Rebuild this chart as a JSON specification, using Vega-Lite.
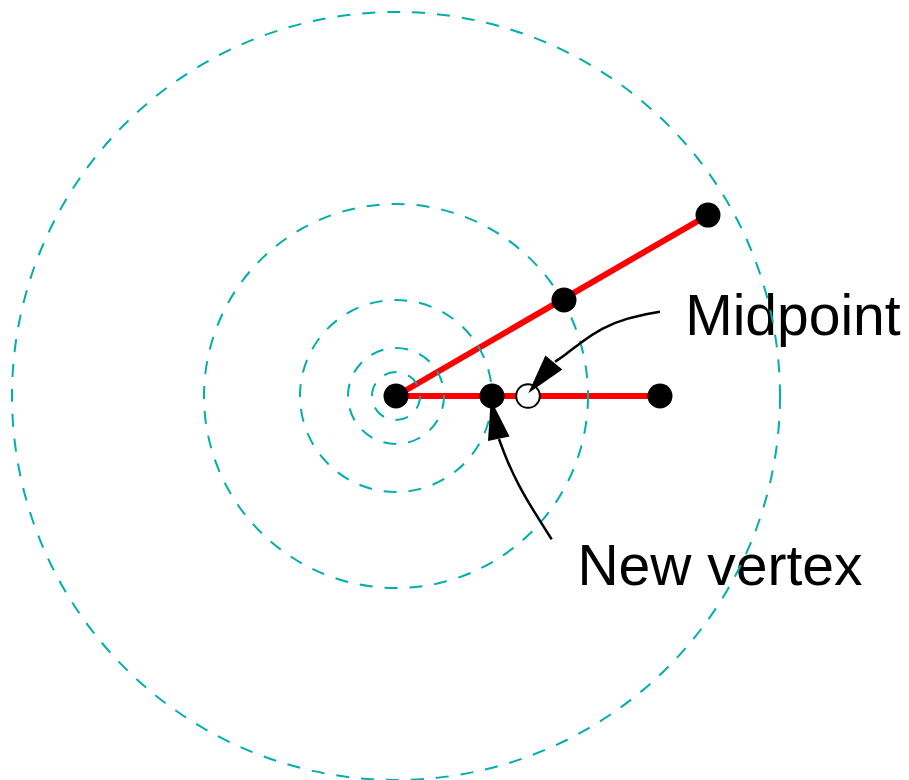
{
  "$schema": "https://vega.github.io/schema/vega-lite/v6.json",
  "width": 909,
  "height": 780,
  "autosize": {"type": "none"},
  "padding": 0,
  "background": "white",
  "config": {"view": {"stroke": null}},
  "datasets": {
    "labels": [
      {"label": "Midpoint", "x": 12.05, "y": 2.54},
      {"label": "New vertex", "x": 7.56, "y": -7.875}
    ],
    "segments": [
      {"seg": "A", "i": 0, "x": 0, "y": 0},
      {"seg": "A", "i": 1, "x": 11, "y": 0},
      {"seg": "B", "i": 0, "x": 0, "y": 0},
      {"seg": "B", "i": 1, "x": 13, "y": 7.54}
    ],
    "rings": [
      {"r": 1, "x": 0, "y": 0},
      {"r": 2, "x": 0, "y": 0},
      {"r": 4, "x": 0, "y": 0},
      {"r": 8, "x": 0, "y": 0},
      {"r": 16, "x": 0, "y": 0}
    ],
    "vertices": [
      {"x": 0, "y": 0},
      {"x": 4, "y": 0},
      {"x": 11, "y": 0},
      {"x": 7, "y": 4},
      {"x": 13, "y": 7.54}
    ],
    "midpoints": [
      {"x": 5.5, "y": 0}
    ],
    "curves": [
      {"arrow": "mid", "i": 0, "x": 11, "y": 3.5125},
      {"arrow": "mid", "i": 1, "x": 9.542, "y": 3.2375},
      {"arrow": "mid", "i": 2, "x": 8.571, "y": 2.821},
      {"arrow": "mid", "i": 3, "x": 7.7375, "y": 2.2625},
      {"arrow": "mid", "i": 4, "x": 7.042, "y": 1.708},
      {"arrow": "mid", "i": 5, "x": 6.625, "y": 1.429},
      {"arrow": "new", "i": 0, "x": 6.4875, "y": -5.971},
      {"arrow": "new", "i": 1, "x": 5.792, "y": -4.888},
      {"arrow": "new", "i": 2, "x": 5.096, "y": -3.708},
      {"arrow": "new", "i": 3, "x": 4.6125, "y": -2.667},
      {"arrow": "new", "i": 4, "x": 4.29, "y": -1.79}
    ],
    "heads": [
      {"arrow": "mid", "x": 5.5125, "y": 0.1125, "dir": 219.7},
      {"arrow": "new", "x": 3.95, "y": -0.15, "dir": 348.5}
    ]
  },
  "encoding": {
    "x": {"field": "x", "type": "quantitative", "scale": {"domain": [-16.5, 21.375], "nice": false, "zero": false}, "axis": null},
    "y": {"field": "y", "type": "quantitative", "scale": {"domain": [-16, 16.5], "nice": false, "zero": false}, "axis": null}
  },
  "layer": [
    {
      "data": {"name": "labels"},
      "mark": {"type": "text", "align": "left", "baseline": "alphabetic", "font": "Liberation Sans", "fontSize": 57, "color": "black"},
      "encoding": {"text": {"field": "label", "type": "nominal"}}
    },
    {
      "data": {"name": "segments"},
      "mark": {"type": "line", "color": "#FF0000", "strokeWidth": 6, "strokeCap": "butt"},
      "encoding": {
        "detail": {"field": "seg", "type": "nominal"},
        "order": {"field": "i", "type": "quantitative"}
      }
    },
    {
      "data": {"name": "rings"},
      "mark": {"type": "point", "shape": "circle", "filled": false, "color": "#00AEAE", "strokeWidth": 2, "strokeDash": [13, 12], "opacity": 1},
      "encoding": {
        "size": {"field": "r", "type": "quantitative", "scale": {"type": "pow", "exponent": 2, "domain": [0, 16], "range": [0, 589824], "zero": true}, "legend": null}
      }
    },
    {
      "data": {"name": "vertices"},
      "mark": {"type": "point", "shape": "circle", "filled": true, "color": "black", "size": 625, "opacity": 1}
    },
    {
      "data": {"name": "midpoints"},
      "mark": {"type": "point", "shape": "circle", "filled": true, "fill": "white", "stroke": "black", "strokeWidth": 2, "size": 560, "opacity": 1}
    },
    {
      "data": {"name": "curves"},
      "mark": {"type": "line", "color": "black", "strokeWidth": 2.5, "interpolate": "basis"},
      "encoding": {
        "detail": {"field": "arrow", "type": "nominal"},
        "order": {"field": "i", "type": "quantitative"}
      }
    },
    {
      "data": {"name": "heads"},
      "mark": {"type": "point", "shape": "M0,0L-0.55,2L0.55,2Z", "filled": true, "color": "black", "size": 1600, "opacity": 1, "strokeWidth": 0},
      "encoding": {
        "angle": {"field": "dir", "type": "quantitative", "scale": {"domain": [0, 360], "range": [0, 360]}}
      }
    }
  ]
}
